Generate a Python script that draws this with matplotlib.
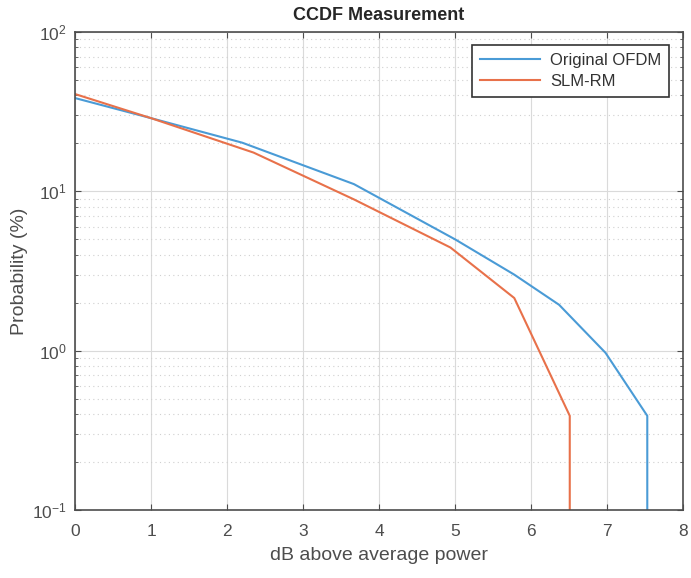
import matplotlib
matplotlib.use("Agg")
import matplotlib.pyplot as plt
from matplotlib.ticker import LogLocator, NullFormatter, FixedLocator

plt.rcParams['font.family'] = ['Liberation Sans', 'DejaVu Sans']

x_orig = [0.0, 1.0, 2.2, 3.67, 5.0, 5.78, 6.37, 6.98, 7.53, 7.53]
y_orig = [38.5, 28.8, 20.2, 11.1, 5.0, 3.0, 1.94, 0.97, 0.39, 0.05]

x_slm = [0.0, 1.0, 2.35, 3.67, 4.94, 5.78, 6.51, 6.51]
y_slm = [40.8, 28.8, 17.5, 8.9, 4.44, 2.14, 0.39, 0.05]

labels = ["Original OFDM", "SLM-RM"]
xticks = [0, 1, 2, 3, 4, 5, 6, 7, 8]

fig = plt.figure(figsize=(6.91, 5.78), dpi=100)
ax = fig.add_axes([75/691, 1-510/578, (683-75)/691, (510-32)/578])

ax.plot(x_orig, y_orig, color='#4A9BD6', lw=1.5, label=labels[0])
ax.plot(x_slm, y_slm, color='#E8714A', lw=1.5, label=labels[1])

ax.set_yscale('log')
ax.set_xlim(0, 8)
ax.set_ylim(0.1, 100)
ax.xaxis.set_major_locator(FixedLocator(xticks))
ax.yaxis.set_major_locator(LogLocator(base=10, numticks=10))
ax.yaxis.set_minor_locator(LogLocator(base=10, subs=range(2, 10), numticks=20))
ax.yaxis.set_minor_formatter(NullFormatter())

ax.grid(True, which='major', color='#DADADA', lw=0.8, ls='-')
ax.grid(True, which='minor', axis='y', color='#D0D0D0', lw=0.8, ls=(0, (1, 3)))
ax.set_axisbelow(True)

for s in ax.spines.values():
    s.set_color('#4D4D4D')
    s.set_linewidth(1.2)
ax.tick_params(which='both', direction='in', top=True, right=True, colors='#4D4D4D',
               labelcolor='#4D4D4D', labelsize=12.5)
ax.tick_params(axis='x', which='major', pad=10)
ax.tick_params(axis='y', which='major', pad=6)
ax.tick_params(which='major', length=4)
ax.tick_params(which='minor', length=2.5)

ax.set_title('CCDF Measurement', fontsize=13, fontweight='bold', color='#262626', pad=9)
ax.set_xlabel('dB above average power', fontsize=14, color='#4D4D4D', labelpad=6)
ax.set_ylabel('Probability (%)', fontsize=14, color='#4D4D4D', labelpad=3)

leg = ax.legend(loc='upper right', fontsize=12, fancybox=False, framealpha=1,
                edgecolor='#333333', handlelength=3.6, borderpad=0.45, labelspacing=0.4,
                handletextpad=0.6, bbox_to_anchor=(0.99, 0.99))
leg.get_frame().set_linewidth(1.2)
for t in leg.get_texts():
    t.set_color('#333333')

fig.savefig('out.png', dpi=100)
